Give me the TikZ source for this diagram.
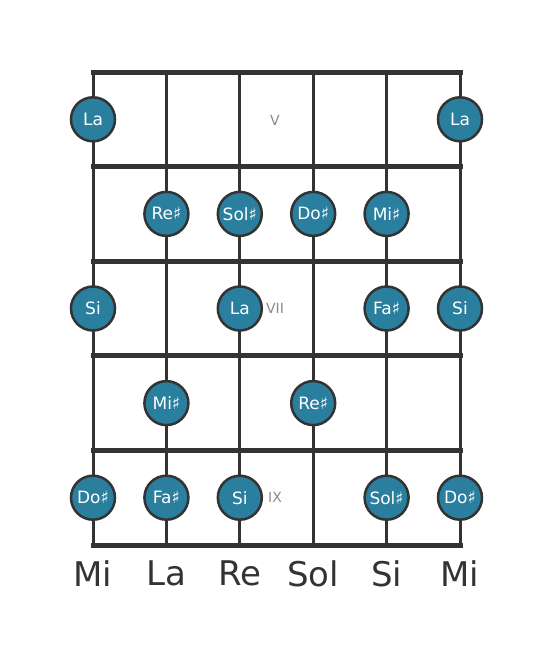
\documentclass[tikz,border=0pt]{standalone}
\usepackage{fontspec}
\setmainfont{DejaVu Sans}
\usetikzlibrary{positioning}
\usetikzlibrary{calc}
\definecolor{dotblue}{HTML}{2A7F9E}
\definecolor{wire}{HTML}{333333}
\definecolor{fretno}{HTML}{8A8A8A}

\begin{document}
\begin{tikzpicture}[x=1pt, y=-1pt,
  notedot/.style={circle, draw=wire, line width=2.5pt, fill=dotblue, minimum size=44pt,
    inner sep=0pt, text=white, font=\fontsize{17}{17}\selectfont},
  fretline/.style={draw=wire, line width=5pt},
  stringline/.style={draw=wire, line width=3pt},
  tuning/.style={text=wire, font=\fontsize{34}{34}\selectfont},
  fretmark/.style={text=fretno, font=\fontsize{14}{14}\selectfont},
]
\useasboundingbox (0,0) rectangle (553,656);
%strings
\foreach \s/\x in {1/93, 2/166.4, 3/239.8, 4/313.2, 5/386.6, 6/460} {
  \coordinate (s\s-top) at (\x,72);
  \coordinate (s\s-bot) at (\x,545);
  \draw[stringline] (s\s-top) -- (s\s-bot);
}
%frets
\foreach \f/\y in {0/72, 1/166.6, 2/261.2, 3/355.8, 4/450.4, 5/545} {
  \coordinate (f\f-l) at (93,\y);
  \coordinate (f\f-r) at (460,\y);
  \draw[fretline, line cap=rect] (f\f-l) -- (f\f-r);
}
%position marks
\node[fretmark] (p5) at (275,120) {V};
\node[fretmark] (p7) at (275,308) {VII};
\node[fretmark] (p9) at (275,497) {IX};
%notes
\foreach \s/\f/\n in {1/1/La, 6/1/La,
  2/2/Re♯, 3/2/Sol♯, 4/2/Do♯, 5/2/Mi♯,
  1/3/Si, 3/3/La, 5/3/Fa♯, 6/3/Si,
  2/4/Mi♯, 4/4/Re♯,
  1/5/Do♯, 2/5/Fa♯, 3/5/Si, 5/5/Sol♯, 6/5/Do♯}
  \node[notedot] (n\s-\f) at ($(s\s-top)!{(\f-0.5)/5}!(s\s-bot)$) {\n};
%tuning
\foreach \s/\n in {1/Mi, 2/La, 3/Re, 4/Sol, 5/Si, 6/Mi}
  \node[tuning, below=12pt of s\s-bot] (t\s) {\n};
\end{tikzpicture}
\end{document}
